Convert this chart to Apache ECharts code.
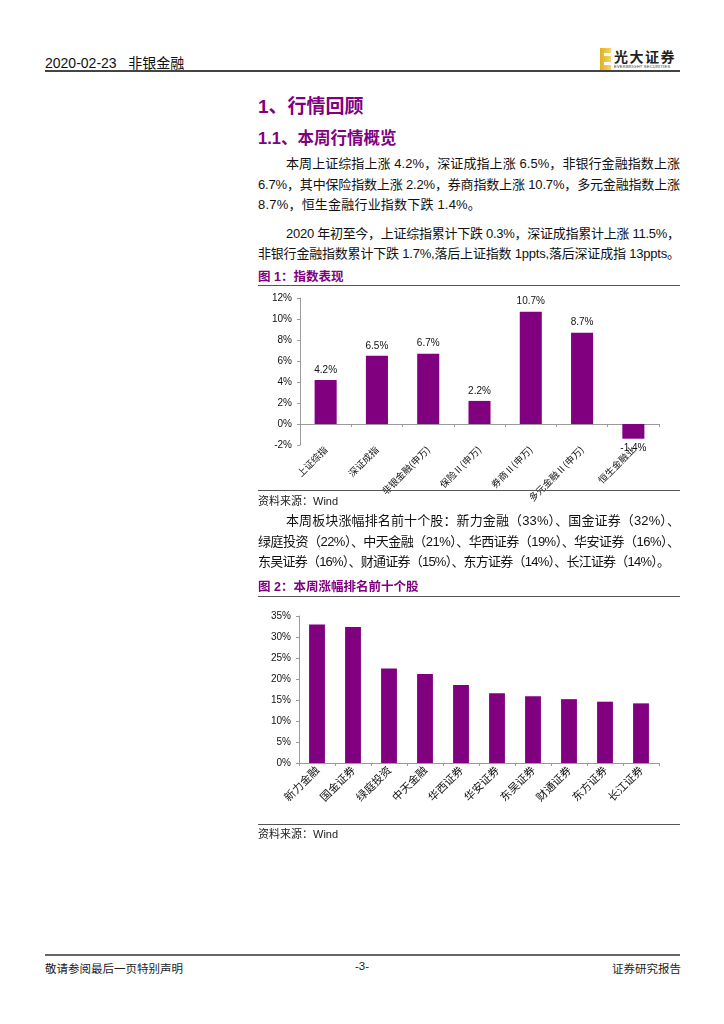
<!DOCTYPE html>
<html>
<head>
<meta charset="utf-8">
<script src="https://cdn.jsdelivr.net/npm/echarts@6/dist/echarts.min.js"></script>
<style>
  html, body { margin: 0; padding: 0; background: #fff; }
  #page { position: relative; width: 724px; height: 1024px; overflow: hidden; background: #fff;
          font-family: "Liberation Sans", "Noto Sans CJK SC", sans-serif; color: #111; }
  .abs { position: absolute; white-space: nowrap; }
  .line { position: absolute; height: 0; }
  .txt { font-size: 13px; line-height: 20px; height: 20px; display: inline-block; }
  .h1 { color: #800080; font-weight: bold; font-size: 19px; }
  .h2 { color: #800080; font-weight: bold; font-size: 16.5px; }
  .fig { color: #800080; font-weight: bold; font-size: 12.5px; }
  .src { font-size: 11px; color: #222; }
  .foot { font-size: 11.5px; color: #222; }
</style>
</head>
<body>
<div id="page">
  <!-- header -->
  <div class="abs" style="left:45px;top:52px;font-size:14px;color:#111;">2020-02-23&nbsp;&nbsp;&nbsp;非银金融</div>
  <div class="abs" style="left:600px;top:48px;width:11px;height:22px;background:linear-gradient(90deg,#e0b020,#f3d56a);"></div>
  <div class="abs" style="left:604px;top:53px;width:7px;height:3px;background:#fff;"></div>
  <div class="abs" style="left:604px;top:62px;width:7px;height:3px;background:#fff;"></div>
  <div class="abs" style="left:614px;top:46px;font-size:14px;font-weight:bold;color:#222;letter-spacing:1.5px;">光大证券</div>
  <div class="abs" style="left:614px;top:64px;font-size:8px;color:#333;transform:scale(0.5);transform-origin:0 0;letter-spacing:0.5px;">EVERBRIGHT SECURITIES</div>
  <div class="line" style="left:45px;top:70px;width:635px;border-top:2px solid #444;"></div>

  <!-- section titles -->
  <div class="abs h1" style="left:258px;top:91px;">1、行情回顾</div>
  <div class="abs h2" style="left:258px;top:125px;">1.1、本周行情概览</div>

  <!-- paragraph 1 -->
  <span class="abs txt fitline" data-w="394" style="left:286px;top:154px;">本周上证综指上涨 4.2%，深证成指上涨 6.5%，非银行金融指数上涨</span>
  <span class="abs txt fitline" data-w="422" style="left:258px;top:175px;">6.7%，其中保险指数上涨 2.2%，券商指数上涨 10.7%，多元金融指数上涨</span>
  <span class="abs txt" style="left:258px;top:195px;letter-spacing:0.2px;">8.7%，恒生金融行业指数下跌 1.4%。</span>

  <!-- paragraph 2 -->
  <span class="abs txt fitline" data-w="394" style="left:286px;top:224px;">2020 年初至今，上证综指累计下跌 0.3%，深证成指累计上涨 11.5%，</span>
  <span class="abs txt fitline" data-w="422" style="left:258px;top:244px;">非银行金融指数累计下跌 1.7%,落后上证指数 1ppts,落后深证成指 13ppts。</span>

  <!-- figure 1 -->
  <div class="abs fig" style="left:258px;top:266px;">图 1：指数表现</div>
  <div class="line" style="left:258px;top:285px;width:422px;border-top:1.5px solid #555;"></div>
  <div id="chart1" class="abs" style="left:250px;top:288px;width:430px;height:230px;"></div>
  <div class="line" style="left:258px;top:490px;width:422px;border-top:1.5px solid #555;"></div>
  <div class="abs src" style="left:258px;top:492px;">资料来源：Wind</div>

  <!-- paragraph 3 -->
  <span class="abs txt fitline" data-w="394" style="left:286px;top:511px;">本周板块涨幅排名前十个股：新力金融（33%）、国金证券（32%）、</span>
  <span class="abs txt fitline" data-w="422" style="left:258px;top:532px;">绿庭投资（22%）、中天金融（21%）、华西证券（19%）、华安证券（16%）、</span>
  <span class="abs txt fitline" data-w="412" style="left:258px;top:552px;">东吴证券（16%）、财通证券（15%）、东方证券（14%）、长江证券（14%）。</span>

  <!-- figure 2 -->
  <div class="abs fig" style="left:258px;top:576px;">图 2：本周涨幅排名前十个股</div>
  <div class="line" style="left:258px;top:596px;width:422px;border-top:1.5px solid #555;"></div>
  <div id="chart2" class="abs" style="left:250px;top:600px;width:430px;height:222px;"></div>
  <div class="line" style="left:258px;top:824px;width:422px;border-top:1.5px solid #555;"></div>
  <div class="abs src" style="left:258px;top:825px;">资料来源：Wind</div>

  <!-- footer -->
  <div class="line" style="left:45px;top:954px;width:635px;border-top:2px solid #666;"></div>
  <div class="abs foot" style="left:45px;top:960px;">敬请参阅最后一页特别声明</div>
  <div class="abs foot" style="left:355px;top:960px;">-3-</div>
  <div class="abs foot" style="left:612px;top:960px;">证券研究报告</div>
</div>

<script>
// ---------- data ----------
var indexCategories = ['上证综指', '深证成指', '非银金融(申万)', '保险Ⅱ(申万)', '券商Ⅱ(申万)', '多元金融Ⅱ(申万)', '恒生金融业'];
var indexValues = [4.2, 6.5, 6.7, 2.2, 10.7, 8.7, -1.4];
var indexTicks = { min: -2, max: 12, interval: 2 };

var stockCategories = ['新力金融', '国金证券', '绿庭投资', '中天金融', '华西证券', '华安证券', '东吴证券', '财通证券', '东方证券', '长江证券'];
var stockValues = [33.0, 32.4, 22.5, 21.2, 18.6, 16.6, 15.9, 15.2, 14.6, 14.2];
var stockTicks = { min: 0, max: 35, interval: 5 };

// ---------- fit justified text lines ----------
document.querySelectorAll('.fitline').forEach(function (el) {
  el.style.letterSpacing = '0px';
  var w = parseFloat(el.getAttribute('data-w'));
  var nat = el.getBoundingClientRect().width;
  var n = el.textContent.length;
  el.style.letterSpacing = ((w - nat) / (n - 1)) + 'px';
});

var PURPLE = '#800080';
var AXIS = '#9a9a9a';
var NUMFONT = '"Liberation Sans", Arial, sans-serif';
var CJKFONT = '"Noto Sans CJK SC", sans-serif';

function pct(v) { return v + '%'; }

// ---------- chart 1 ----------
var c1 = echarts.init(document.getElementById('chart1'), null, { renderer: 'canvas' });
c1.setOption({
  animation: false,
  grid: { left: 50, top: 10, width: 359, height: 147, containLabel: false, outerBoundsMode: 'none' },
  xAxis: {
    type: 'category',
    data: indexCategories,
    axisLine: { onZero: true, lineStyle: { color: AXIS, width: 1 } },
    axisTick: { show: true, alignWithLabel: false, length: 3, lineStyle: { color: AXIS } },
    axisLabel: { rotate: 45, interval: 0, fontSize: 9.5, color: '#111', fontFamily: CJKFONT, margin: 3 }
  },
  yAxis: {
    type: 'value',
    min: indexTicks.min, max: indexTicks.max, interval: indexTicks.interval,
    splitLine: { show: false },
    axisLine: { show: true, lineStyle: { color: AXIS } },
    axisTick: { show: true, length: 3, lineStyle: { color: AXIS } },
    axisLabel: { formatter: pct, fontSize: 10, color: '#111', fontFamily: NUMFONT, margin: 8 }
  },
  series: [{
    type: 'bar',
    barWidth: '43%',
    itemStyle: { color: PURPLE },
    data: indexValues.map(function (v) {
      return { value: v, label: { position: v < 0 ? 'bottom' : 'top' } };
    }),
    label: {
      show: true, distance: 5, fontSize: 10, color: '#111', fontFamily: NUMFONT,
      formatter: function (p) { return p.value.toFixed(1) + '%'; }
    }
  }]
});

// ---------- chart 2 ----------
var c2 = echarts.init(document.getElementById('chart2'), null, { renderer: 'canvas' });
c2.setOption({
  animation: false,
  grid: { left: 49, top: 16, width: 360, height: 147, containLabel: false, outerBoundsMode: 'none' },
  xAxis: {
    type: 'category',
    data: stockCategories,
    axisLine: { lineStyle: { color: AXIS, width: 1 } },
    axisTick: { show: true, length: 3, lineStyle: { color: AXIS } },
    axisLabel: { rotate: 45, interval: 0, fontSize: 11, color: '#111', fontFamily: CJKFONT, margin: 5 }
  },
  yAxis: {
    type: 'value',
    min: stockTicks.min, max: stockTicks.max, interval: stockTicks.interval,
    splitLine: { show: false },
    axisLine: { show: true, lineStyle: { color: AXIS } },
    axisTick: { show: true, length: 3, lineStyle: { color: AXIS } },
    axisLabel: { formatter: pct, fontSize: 10, color: '#111', fontFamily: NUMFONT, margin: 8 }
  },
  series: [{
    type: 'bar',
    barWidth: '44%',
    itemStyle: { color: PURPLE },
    data: stockValues
  }]
});
</script>
</body>
</html>
